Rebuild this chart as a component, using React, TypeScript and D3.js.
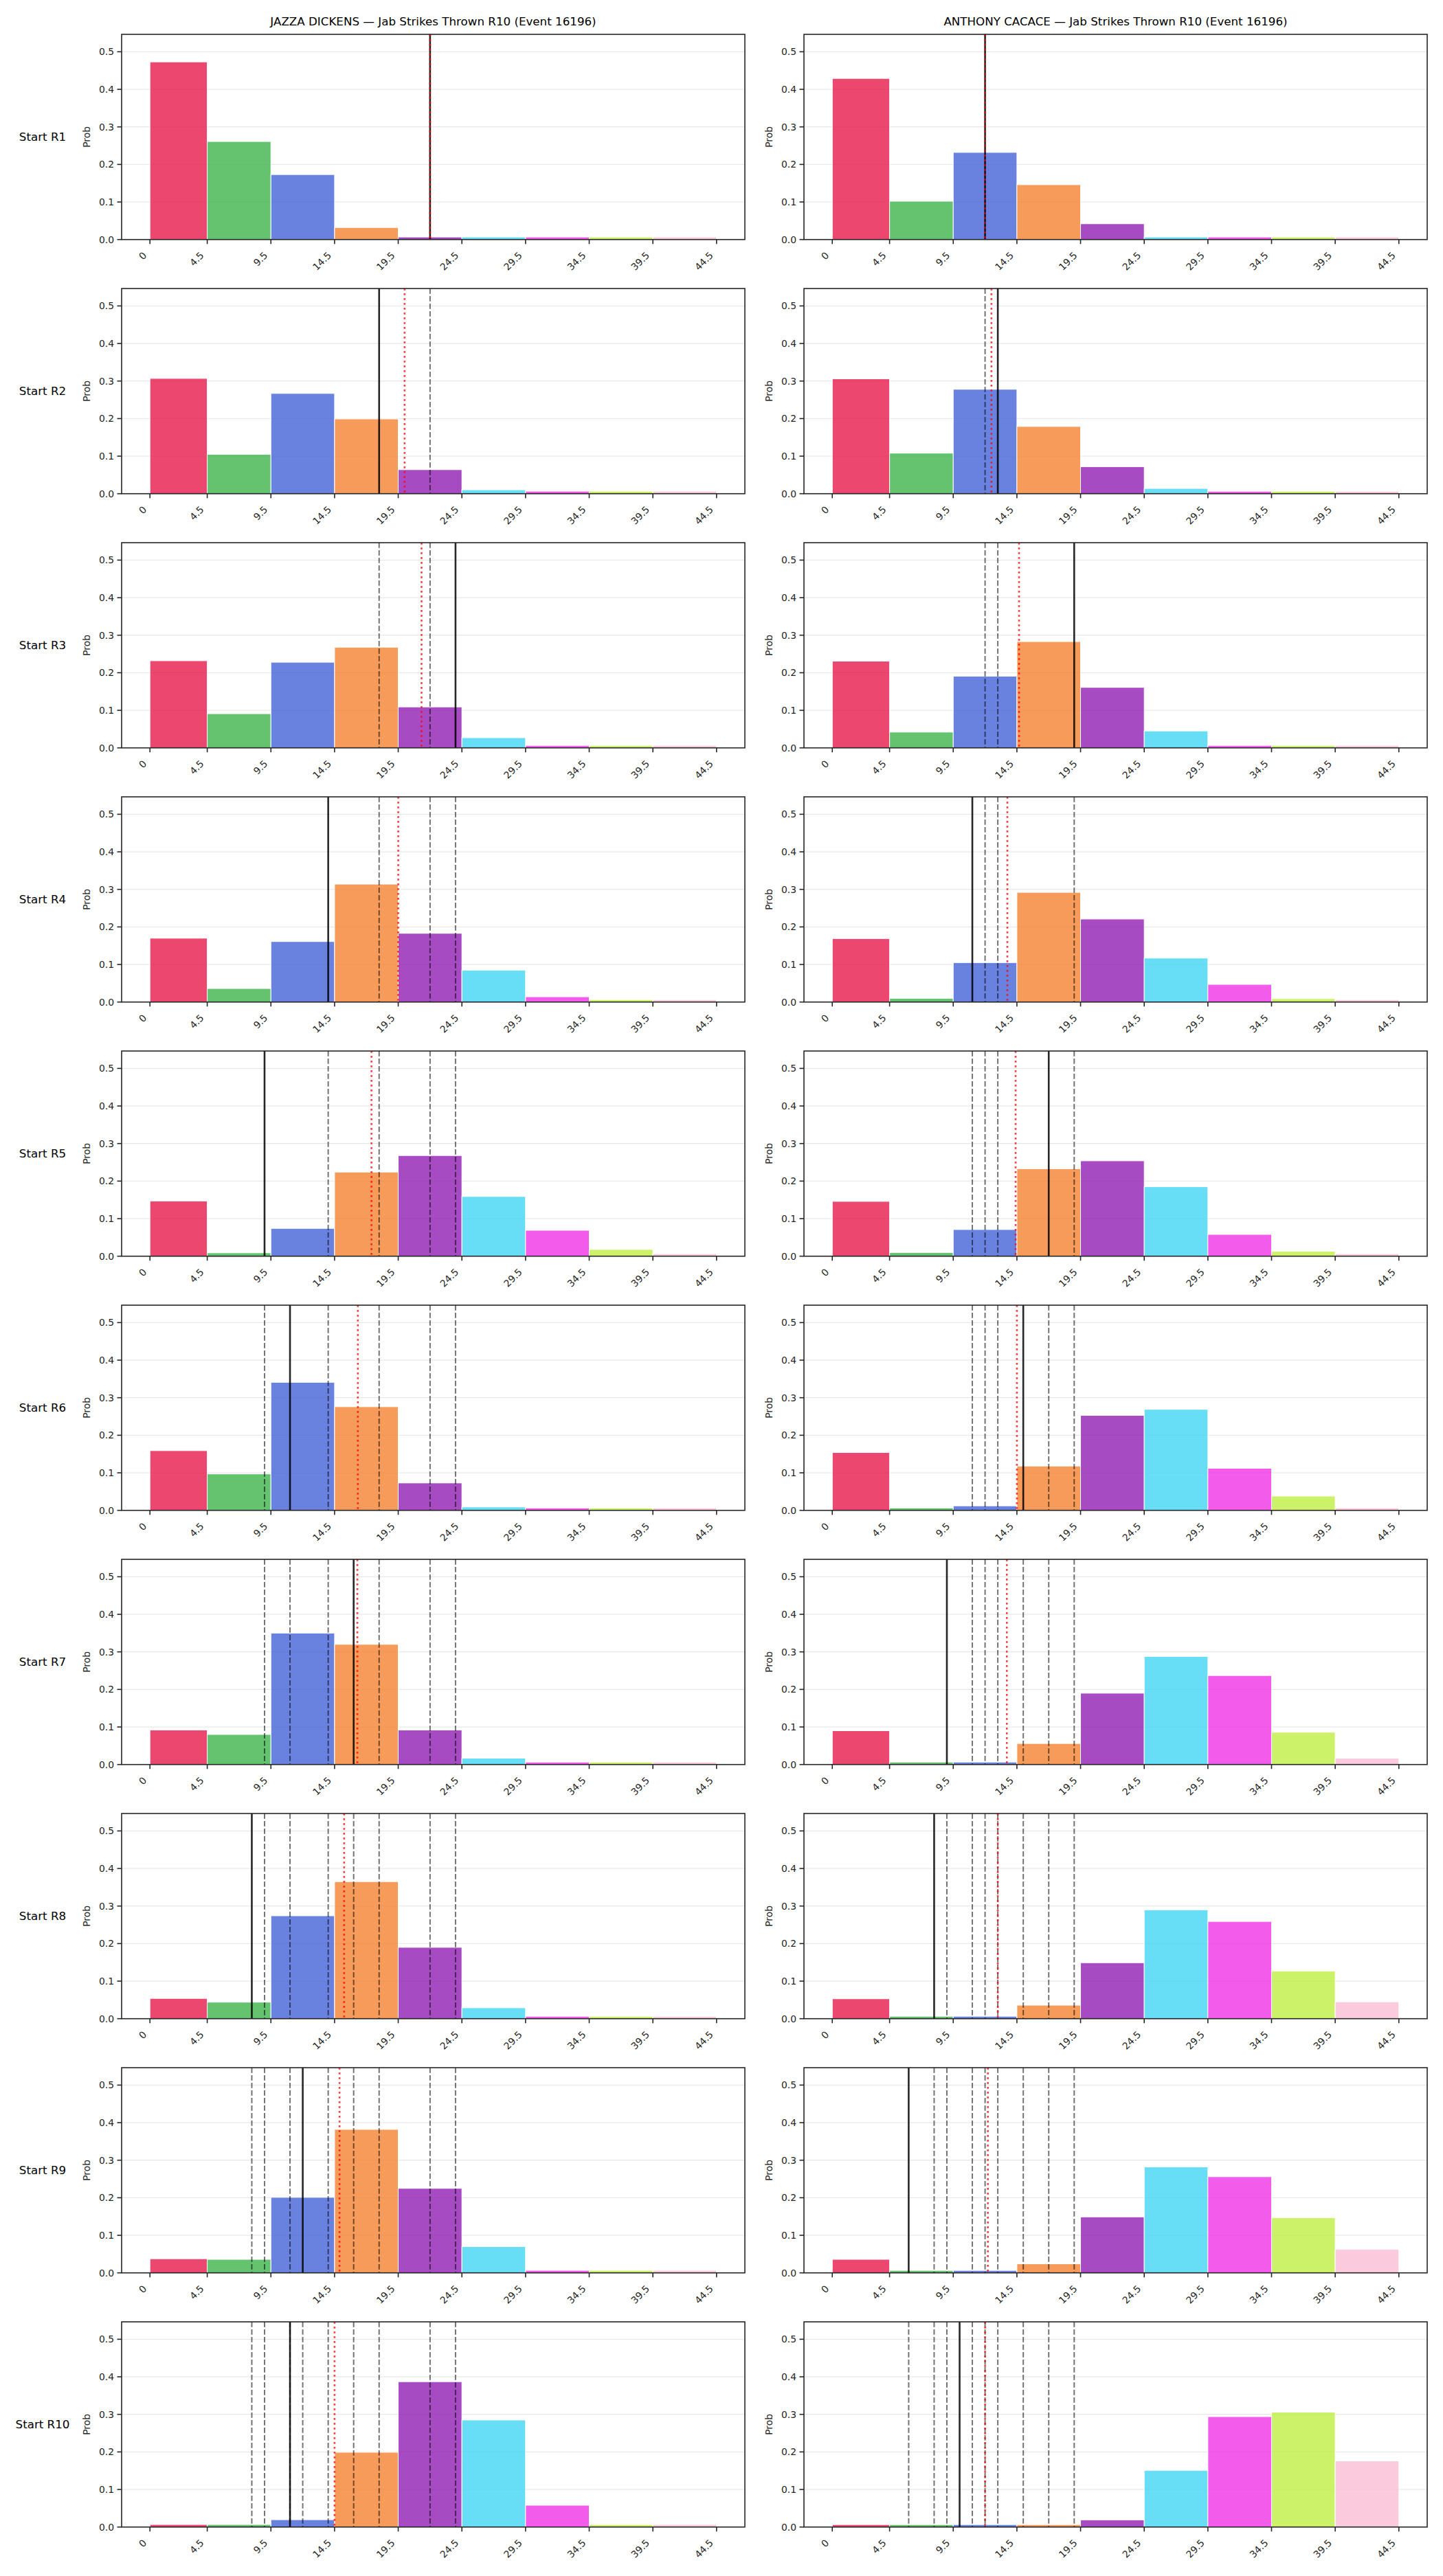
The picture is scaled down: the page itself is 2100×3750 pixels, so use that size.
import React from "react";
import * as d3 from "d3";

// ---- data ----
const fighters = ["JAZZA DICKENS", "ANTHONY CACACE"];
const rowLabels = ["Start R1", "Start R2", "Start R3", "Start R4", "Start R5", "Start R6", "Start R7", "Start R8", "Start R9", "Start R10"];
const binLo = [0, 4.5, 9.5, 14.5, 19.5, 24.5, 29.5, 34.5, 39.5];
const binHi = [4.5, 9.5, 14.5, 19.5, 24.5, 29.5, 34.5, 39.5, 44.5];
const xTicks = [0, 4.5, 9.5, 14.5, 19.5, 24.5, 29.5, 34.5, 39.5, 44.5];
const xTickLabels = ["0", "4.5", "9.5", "14.5", "19.5", "24.5", "29.5", "34.5", "39.5", "44.5"];
const yTicks = [0, 0.1, 0.2, 0.3, 0.4, 0.5];
const yTickLabels = ["0.0", "0.1", "0.2", "0.3", "0.4", "0.5"];
const binColors = ["#e6194b", "#3cb44b", "#4363d8", "#f58231", "#911eb4", "#42d4f4", "#f032e6", "#bfef45", "#fabed4"];

const jazzaProbs = [
  [0.473, 0.261, 0.173, 0.032, 0.0067, 0.0067, 0.0067, 0.0067, 0.0067],
  [0.307, 0.105, 0.267, 0.199, 0.064, 0.0104, 0.0067, 0.0067, 0.0067],
  [0.232, 0.091, 0.228, 0.268, 0.109, 0.027, 0.0065, 0.0065, 0.0065],
  [0.170, 0.036, 0.161, 0.314, 0.183, 0.085, 0.014, 0.0065, 0.0065],
  [0.147, 0.009, 0.074, 0.224, 0.268, 0.159, 0.069, 0.018, 0.0065],
  [0.159, 0.097, 0.341, 0.276, 0.073, 0.009, 0.0065, 0.0065, 0.0065],
  [0.092, 0.080, 0.350, 0.320, 0.092, 0.017, 0.0065, 0.0065, 0.0065],
  [0.054, 0.044, 0.274, 0.365, 0.190, 0.029, 0.0065, 0.0065, 0.0065],
  [0.0376, 0.036, 0.201, 0.382, 0.225, 0.070, 0.0067, 0.0067, 0.0067],
  [0.0067, 0.0067, 0.0195, 0.199, 0.387, 0.285, 0.058, 0.0067, 0.0067],
];
const cacaceProbs = [
  [0.429, 0.102, 0.232, 0.146, 0.042, 0.0067, 0.0067, 0.0067, 0.0067],
  [0.306, 0.108, 0.278, 0.179, 0.072, 0.014, 0.0065, 0.0065, 0.0065],
  [0.231, 0.042, 0.191, 0.283, 0.161, 0.045, 0.0065, 0.0065, 0.0065],
  [0.169, 0.010, 0.105, 0.292, 0.221, 0.117, 0.047, 0.009, 0.0065],
  [0.146, 0.010, 0.071, 0.233, 0.254, 0.185, 0.058, 0.013, 0.0065],
  [0.154, 0.0065, 0.012, 0.118, 0.253, 0.269, 0.112, 0.038, 0.0065],
  [0.090, 0.0065, 0.0065, 0.056, 0.190, 0.288, 0.237, 0.086, 0.017],
  [0.053, 0.0065, 0.0065, 0.036, 0.149, 0.290, 0.259, 0.127, 0.045],
  [0.036, 0.0065, 0.0065, 0.024, 0.149, 0.282, 0.256, 0.147, 0.063],
  [0.0065, 0.0065, 0.0065, 0.0065, 0.019, 0.151, 0.294, 0.306, 0.176],
];
const jazzaRounds = [22, 18, 24, 14, 9, 11, 16, 8, 12, 11];
const cacaceRounds = [12, 13, 19, 11, 17, 15, 9, 8, 6, 10];
const jazzaMeans = [22, 20, 21.33, 19.5, 17.4, 16.33, 16.29, 15.25, 14.89, 14.5];
const cacaceMeans = [12, 12.5, 14.67, 13.75, 14.4, 14.5, 13.71, 13, 12.22, 12];

const probs = [jazzaProbs, cacaceProbs];
const rounds = [jazzaRounds, cacaceRounds];
const means = [jazzaMeans, cacaceMeans];

// ---- layout ----
const W = 2100;
const H = 3750;
const colLeft = [177, 1170];
const panelW = 907;
const rowTop0 = 50;
const rowPitch = 370;
const panelH = 298.7;
const FONT = "DejaVu Sans";

function Panel({ col, row }: { col: number; row: number }) {
  const x0 = colLeft[col];
  const y0 = rowTop0 + row * rowPitch;
  const x = d3.scaleLinear().domain([-2.225, 46.725]).range([x0, x0 + panelW]);
  const y = d3.scaleLinear().domain([0, 0.5464]).range([y0 + panelH, y0]);
  const vals = probs[col][row];
  const prev = rounds[col].slice(0, row);
  const cur = rounds[col][row];
  const mean = means[col][row];
  const bottom = y0 + panelH;
  return (
    <g>
      {/* grid */}
      {yTicks.map((t, i) => (
        <line key={"g" + i} x1={x0} x2={x0 + panelW} y1={y(t)} y2={y(t)} stroke="#b0b0b0" strokeOpacity={0.35} strokeWidth={1} />
      ))}
      {/* bars */}
      {vals.map((v, i) => (
        <rect
          key={"b" + i}
          x={x(binLo[i])}
          y={y(v)}
          width={x(binHi[i]) - x(binLo[i])}
          height={y(0) - y(v)}
          fill={binColors[i]}
          fillOpacity={0.8}
          stroke="#ffffff"
          strokeWidth={1}
        />
      ))}
      {/* previous rounds */}
      {prev.map((p, i) => (
        <line key={"d" + i} x1={x(p)} x2={x(p)} y1={y0} y2={bottom} stroke="#000" strokeOpacity={0.55} strokeWidth={2} strokeDasharray="7.7 3.3" />
      ))}
      {/* current round */}
      <line x1={x(cur)} x2={x(cur)} y1={y0} y2={bottom} stroke="#000" strokeOpacity={0.85} strokeWidth={2.6} />
      {/* running mean */}
      <line x1={x(mean)} x2={x(mean)} y1={y0} y2={bottom} stroke="#ff0000" strokeOpacity={0.75} strokeWidth={2.6} strokeDasharray="2.8 4.2" />
      {/* spines */}
      <rect x={x0} y={y0} width={panelW} height={panelH} fill="none" stroke="#262626" strokeWidth={1.6} />
      {/* y ticks */}
      {yTicks.map((t, i) => (
        <g key={"yt" + i}>
          <line x1={x0 - 6.5} x2={x0} y1={y(t)} y2={y(t)} stroke="#262626" strokeWidth={1.6} />
          <text x={x0 - 11} y={y(t)} dy="0.36em" textAnchor="end" fontSize={13.9} fontFamily={FONT} fill="#262626">
            {yTickLabels[i]}
          </text>
        </g>
      ))}
      {/* x ticks */}
      {xTicks.map((t, i) => (
        <g key={"xt" + i}>
          <line x1={x(t)} x2={x(t)} y1={bottom} y2={bottom + 6.5} stroke="#262626" strokeWidth={1.6} />
          <text
            transform={`translate(${x(t) - 4},${bottom + 24}) rotate(-45)`}
            textAnchor="end"
            fontSize={13.9}
            fontFamily={FONT}
            fill="#262626"
          >
            {xTickLabels[i]}
          </text>
        </g>
      ))}
      {/* y label */}
      <text
        transform={`translate(${x0 - 46},${y0 + panelH / 2}) rotate(-90)`}
        textAnchor="middle"
        fontSize={13.9}
        fontFamily={FONT}
        fill="#262626"
      >
        Prob
      </text>
      {col === 0 && (
        <text x={62} y={y0 + panelH / 2 + 6} textAnchor="middle" fontSize={16.7} fontFamily={FONT} fill="#000">
          {rowLabels[row]}
        </text>
      )}
      {row === 0 && (
        <text x={x0 + panelW / 2} y={37.3} textAnchor="middle" fontSize={16.7} fontFamily={FONT} fill="#000">
          {fighters[col] + " \u2014 Jab Strikes Thrown R10 (Event 16196)"}
        </text>
      )}
    </g>
  );
}

export default function App() {
  const panels: { col: number; row: number }[] = [];
  for (let r = 0; r < rowLabels.length; r++) for (let c = 0; c < 2; c++) panels.push({ col: c, row: r });
  return (
    <svg width={W} height={H} viewBox={`0 0 ${W} ${H}`} style={{ position: "absolute", left: 0, top: 0, background: "#fff" }}>
      <rect x={0} y={0} width={W} height={H} fill="#fff" />
      {panels.map((p) => (
        <Panel key={p.col + "-" + p.row} col={p.col} row={p.row} />
      ))}
    </svg>
  );
}
